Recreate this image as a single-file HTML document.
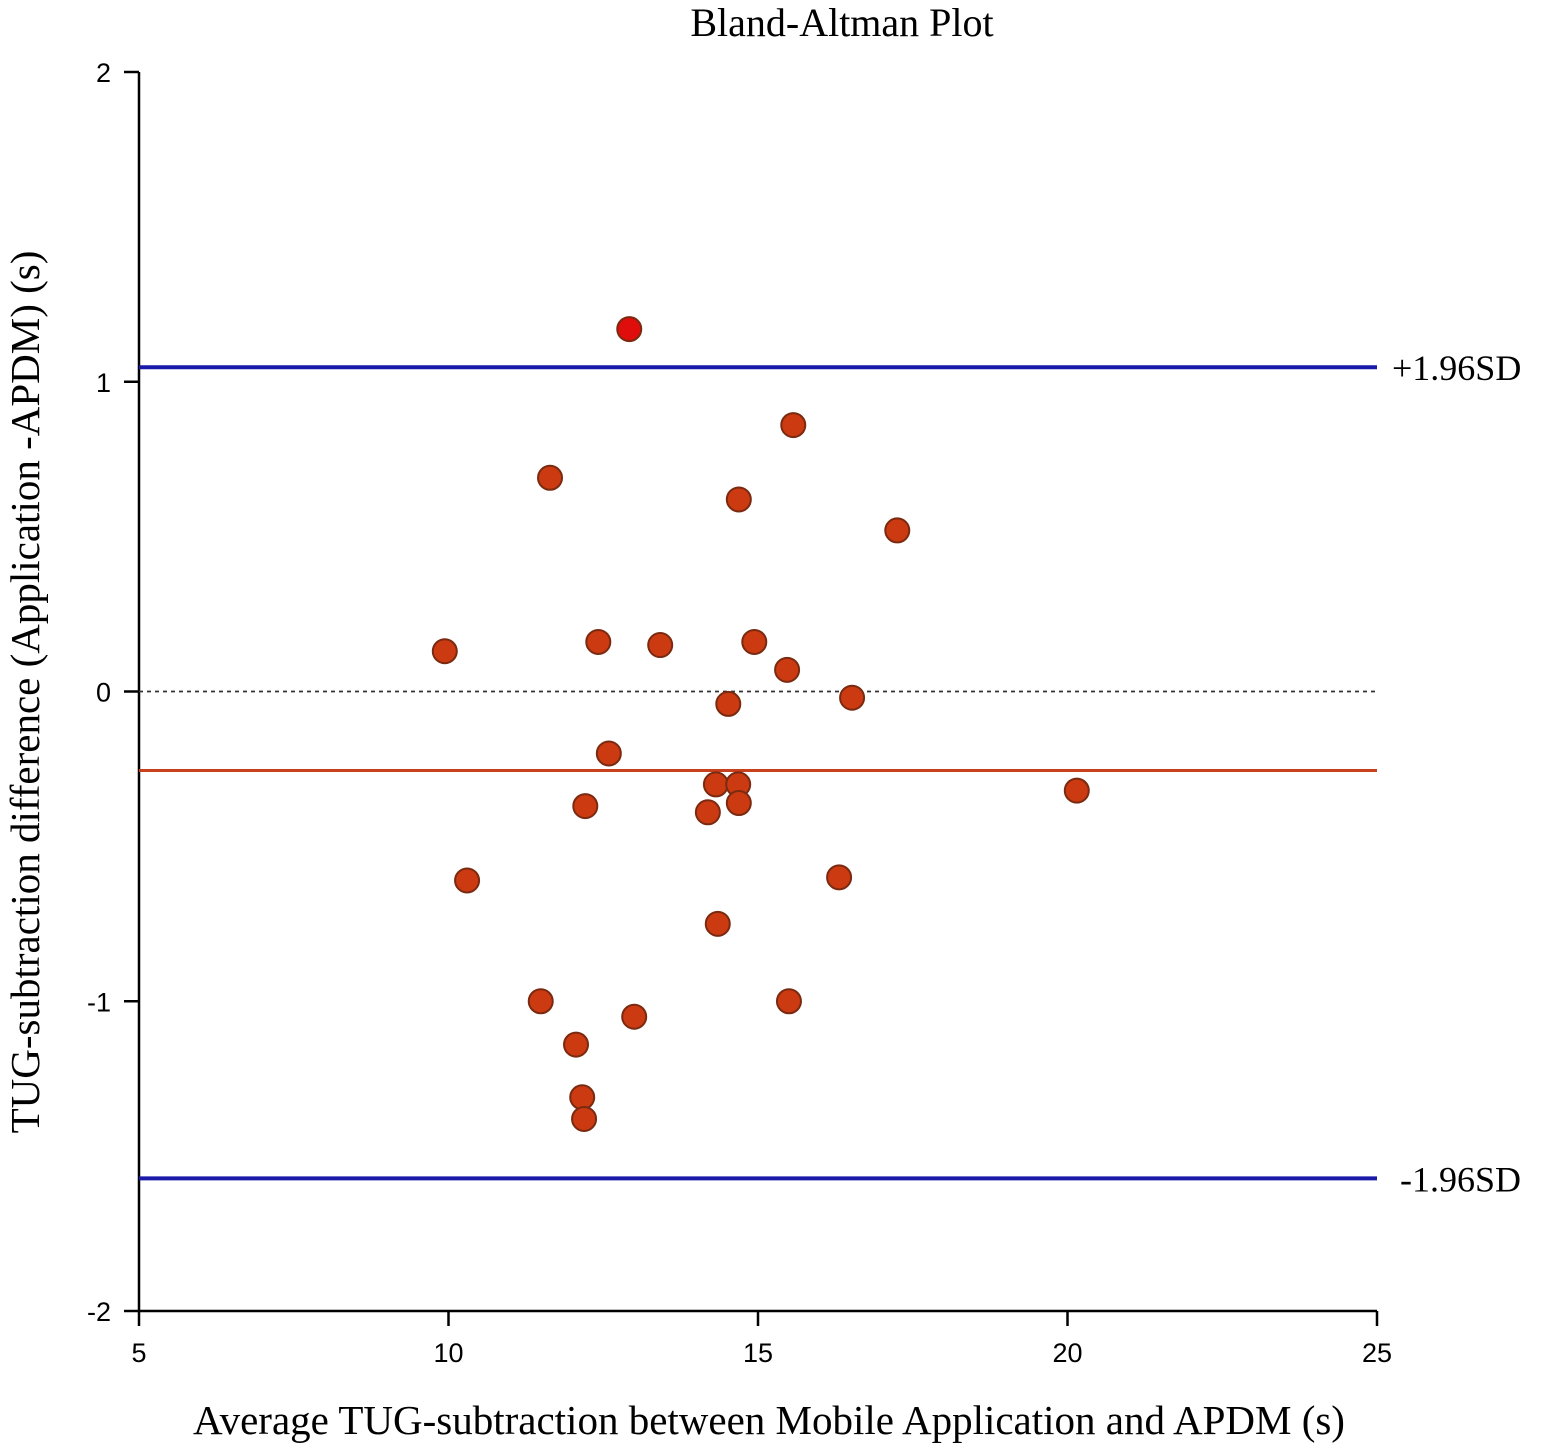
<!DOCTYPE html>
<html><head><meta charset="utf-8"><style>
html,body{margin:0;padding:0;background:#fff;width:1555px;height:1454px;overflow:hidden}
svg{display:block}
.tick{font-family:"Liberation Sans",sans-serif;font-size:27px;fill:#000}
.serif{font-family:"Liberation Serif",serif;fill:#000}
</style></head><body>
<svg id="chart" width="1555" height="1454" viewBox="0 0 1555 1454" xmlns="http://www.w3.org/2000/svg">
<text class="serif" x="842" y="36" font-size="40" text-anchor="middle">Bland-Altman Plot</text>
<text class="serif" x="769" y="1434" font-size="41" text-anchor="middle">Average TUG-subtraction between Mobile Application and APDM (s)</text>
<text class="serif" transform="translate(39,692) rotate(-90)" font-size="41" text-anchor="middle">TUG-subtraction difference (Application -APDM) (s)</text>
<g id="plot"></g>
</svg>
<script>
const xTicks=[5,10,15,20,25];
const yTicks=[2,1,0,-1,-2];
const avgValues=[12.92,15.57,11.64,14.69,17.25,9.94,12.42,13.42,14.94,15.47,16.52,14.52,12.59,14.32,14.68,14.69,12.21,14.19,20.15,10.30,16.31,14.35,11.49,15.50,13.0,12.06,12.16,12.19];
const diffValues=[1.17,0.86,0.69,0.62,0.52,0.13,0.16,0.15,0.16,0.07,-0.02,-0.04,-0.20,-0.30,-0.30,-0.36,-0.37,-0.39,-0.32,-0.61,-0.60,-0.75,-1.00,-1.00,-1.05,-1.14,-1.31,-1.38];
const meanDiff=[-0.255];
const limits=[1.047,-1.572];
const limitLabels=["+1.96SD","-1.96SD"];

const NS="http://www.w3.org/2000/svg";
const X0=139,X1=1377,Y0=1311,Y1=72;
const xs=v=>X0+(v-5)/20*(X1-X0);
const ys=v=>Y0-(v+2)/4*(Y0-Y1);
const g=document.getElementById('plot');
function mk(t,a){const e=document.createElementNS(NS,t);for(const k in a)e.setAttribute(k,a[k]);g.appendChild(e);return e;}

let e;
e=mk('line',{x1:X0,y1:Y1,x2:X0,y2:Y0+1,stroke:'#000','stroke-width':2.5});


e=mk('line',{x1:X0-1,y1:Y0,x2:X1,y2:Y0,stroke:'#000','stroke-width':2.5});



yTicks.forEach(v=>{
  e=mk('line',{x1:X0-15,y1:ys(v),x2:X0,y2:ys(v),stroke:'#000','stroke-width':2.5});
  
  
  e=mk('text',{x:X0-28,y:ys(v)+10,'text-anchor':'end',class:'tick'});
  e.textContent=v;
  
  
});
xTicks.forEach(v=>{
  e=mk('line',{x1:xs(v),y1:Y0,x2:xs(v),y2:Y0+15,stroke:'#000','stroke-width':2.5});
  
  
  e=mk('text',{x:xs(v),y:Y0+51,'text-anchor':'middle',class:'tick'});
  e.textContent=v;
  
  
});

e=mk('line',{x1:X0,y1:ys(0),x2:X1,y2:ys(0),stroke:'#333','stroke-width':1.8,'stroke-dasharray':'4,4'});



e=mk('line',{x1:X0,y1:ys(meanDiff[0]),x2:X1,y2:ys(meanDiff[0]),stroke:'#c8401c','stroke-width':3});



limits.forEach((v,i)=>{
  e=mk('line',{x1:X0,y1:ys(v),x2:X1,y2:ys(v),stroke:'#1a1aa8','stroke-width':4});
  
  
  e=mk('text',{x:i===0?1392:1400,y:ys(v)+13,class:'serif','font-size':36});
  e.textContent=limitLabels[i];
  
  
});

avgValues.forEach((v,i)=>{
  const top=diffValues[i]>limits[0];
  e=mk('circle',{cx:xs(v),cy:ys(diffValues[i]),r:12,fill:top?'#e00d0d':'#cc3a12',stroke:'#7a2a10','stroke-width':2});
  
  
});
</script>
</body></html>
